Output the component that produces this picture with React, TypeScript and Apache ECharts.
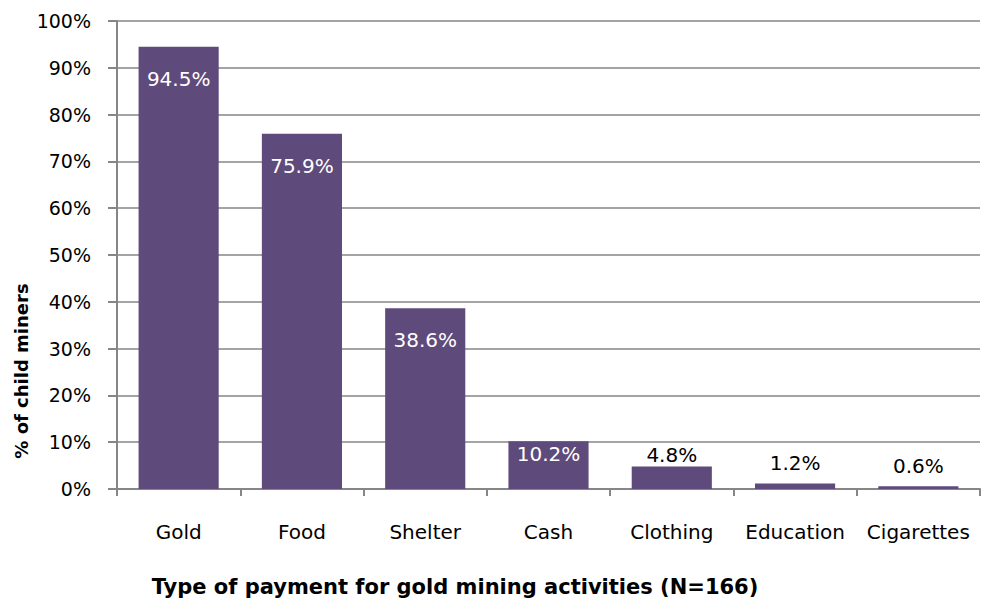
import React, { useEffect, useRef } from "react";
import * as echarts from "echarts";

const categories = ["Gold", "Food", "Shelter", "Cash", "Clothing", "Education", "Cigarettes"];
const values = [94.5, 75.9, 38.6, 10.2, 4.8, 1.2, 0.6];
const insideLabel = [true, true, true, true, false, false, false];
const yTicks = [0, 10, 20, 30, 40, 50, 60, 70, 80, 90, 100];

const FONT = "'DejaVu Sans', sans-serif";
const BAR = "#5F4B7B";

export default function App() {
  const ref = useRef<HTMLDivElement>(null);
  useEffect(() => {
    if (!ref.current) return;
    const chart = echarts.init(ref.current, undefined, { renderer: "svg" });
    chart.setOption({
      animation: false,
      grid: { left: 117, right: 3, top: 21, bottom: 112, containLabel: false },
      xAxis: {
        type: "category",
        data: categories,
        axisLine: { lineStyle: { color: "#868686", width: 2 } },
        axisTick: { show: true, interval: 0, length: 7, alignWithLabel: false, lineStyle: { color: "#868686", width: 2 } },
        axisLabel: { color: "#000", fontSize: 20, fontFamily: FONT, margin: 33, interval: 0 },
      },
      yAxis: {
        type: "value",
        min: 0,
        max: 100,
        interval: 10,
        axisLine: { show: true, lineStyle: { color: "#868686", width: 2 } },
        axisTick: { show: true, length: 9, lineStyle: { color: "#868686", width: 2 } },
        splitLine: { lineStyle: { color: "#868686", width: 1.5 } },
        axisLabel: {
          color: "#000",
          fontSize: 19,
          fontFamily: FONT,
          margin: 26,
          formatter: (v: number) => (yTicks.includes(v) ? v + "%" : ""),
        },
      },
      series: [
        {
          type: "bar",
          barCategoryGap: "35%",
          itemStyle: { color: BAR },
          data: values.map((v, i) => ({
            value: v,
            label: insideLabel[i]
              ? {
                  show: true,
                  position: "insideTop",
                  distance: i < 3 ? 22 : 3,
                  color: "#fff",
                  fontSize: 20,
                  fontFamily: FONT,
                  formatter: v.toFixed(1) + "%",
                }
              : {
                  show: true,
                  position: "top",
                  distance: i === 4 ? 2 : 10,
                  color: "#000",
                  fontSize: 20,
                  fontFamily: FONT,
                  formatter: v.toFixed(1) + "%",
                },
          })),
        },
      ],
      graphic: [
        {
          type: "text",
          x: 455,
          y: 587,
          style: {
            text: "Type of payment for gold mining activities (N=166)",
            fill: "#000",
            font: "bold 21px " + FONT,
            textAlign: "center",
            textVerticalAlign: "middle",
          },
        },
        {
          type: "text",
          x: 21,
          y: 371,
          rotation: Math.PI / 2,
          style: {
            text: "% of child miners",
            fill: "#000",
            font: "bold 18px " + FONT,
            textAlign: "center",
            textVerticalAlign: "middle",
          },
        },
      ],
    });
    return () => chart.dispose();
  }, []);
  return <div ref={ref} style={{ width: 983, height: 601, position: "absolute", left: 0, top: 0 }} />;
}
